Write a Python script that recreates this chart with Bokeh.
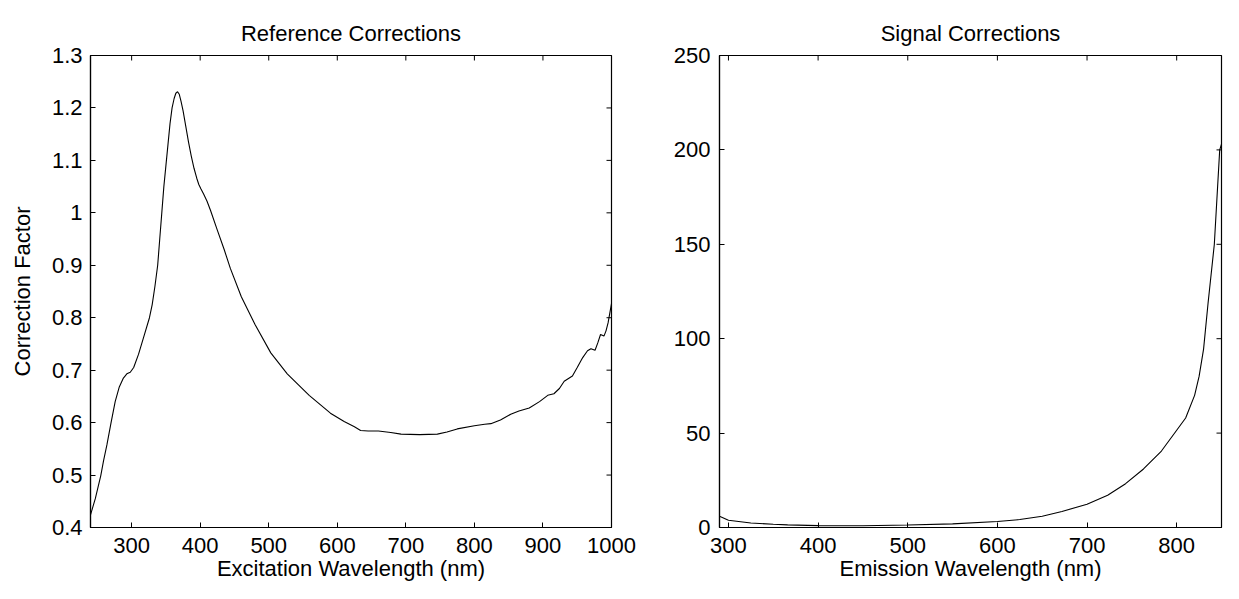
import math
from bokeh.plotting import figure
from bokeh.models import FixedTicker, Range1d, NumeralTickFormatter
from bokeh.layouts import row
from bokeh.embed import file_html
from bokeh.resources import INLINE

# ---------------- data ----------------
ref_wavelength = [240, 247, 255, 259, 264, 270, 276, 282, 288, 293, 298, 303, 310,
                  318, 326, 330, 334, 338, 341, 344, 347, 350, 353, 356, 359, 362,
                  364.5, 367, 369.5, 372, 375, 379, 383, 387, 391, 395, 398, 401,
                  405, 410, 415, 425, 435, 444, 460, 480, 503, 527, 559, 590, 610,
                  625, 634, 645, 660, 678, 693, 720, 746, 760, 775, 800, 815, 824,
                  838, 853, 865, 880, 895, 907, 916, 924, 931, 943, 950, 958, 965,
                  970, 976, 980, 984, 989, 992, 995, 1000]
ref_factor = [0.424, 0.455, 0.499, 0.527, 0.558, 0.600, 0.640, 0.668, 0.685, 0.693,
              0.696, 0.705, 0.730, 0.765, 0.800, 0.825, 0.860, 0.900, 0.950, 1.000,
              1.050, 1.090, 1.130, 1.170, 1.200, 1.218, 1.228, 1.231, 1.226, 1.213,
              1.195, 1.165, 1.135, 1.108, 1.085, 1.066, 1.054, 1.046, 1.036, 1.022,
              1.005, 0.967, 0.930, 0.894, 0.840, 0.787, 0.733, 0.693, 0.652, 0.618,
              0.602, 0.592, 0.585, 0.584, 0.584, 0.581, 0.578, 0.577, 0.578, 0.582,
              0.588, 0.594, 0.597, 0.598, 0.605, 0.616, 0.622, 0.628, 0.640, 0.652,
              0.655, 0.665, 0.679, 0.689, 0.705, 0.724, 0.737, 0.741, 0.738, 0.752,
              0.768, 0.765, 0.775, 0.790, 0.827]

sig_wavelength = [290, 300, 325, 350, 366, 400, 450, 500, 550, 600, 625, 650, 672,
                  700, 723, 743, 763, 783, 800, 810, 820, 825, 830, 835, 842, 848, 850]
sig_factor = [5.9, 3.8, 2.4, 1.7, 1.4, 1.0, 0.95, 1.3, 1.9, 3.2, 4.2, 6.0, 8.5,
              12.3, 17.1, 23.2, 31.0, 40.5, 51.5, 58.0, 70.0, 80.0, 94.5, 118.75,
              150.0, 200.0, 203.0]

ref_xticks = [300, 400, 500, 600, 700, 800, 900, 1000]
ref_yticks = [0.4, 0.5, 0.6, 0.7, 0.8, 0.9, 1.0, 1.1, 1.2, 1.3]
sig_xticks = [300, 400, 500, 600, 700, 800]
sig_yticks = [0, 50, 100, 150, 200, 250]

ref_xlim = (240, 1000)
ref_ylim = (0.4, 1.3)
sig_xlim = (290, 850)
sig_ylim = (0, 250)

FONT = "Liberation Sans"
FS = "22px"
H = 583


def style_axis(ax, ticks, fmt=None):
    ax.ticker = FixedTicker(ticks=ticks)
    ax.major_tick_in = 5
    ax.major_tick_out = 0
    ax.minor_tick_in = 0
    ax.minor_tick_out = 0
    ax.axis_line_color = "black"
    ax.axis_line_width = 1.2
    ax.major_tick_line_color = "black"
    ax.major_tick_line_width = 1
    ax.major_label_text_font = FONT
    ax.major_label_text_font_size = FS
    ax.major_label_text_color = "black"
    ax.axis_label_text_font = FONT
    ax.axis_label_text_font_size = FS
    ax.axis_label_text_font_style = "normal"
    ax.axis_label_text_color = "black"
    if fmt is not None:
        ax.formatter = fmt


def make_fig(title, xlim, ylim, xticks, yticks, xlabel, ylabel, width, bl, br,
             xs, ys, ystand, yfmt=None):
    p = figure(width=width, height=H, output_backend="svg", toolbar_location=None,
               x_range=Range1d(*xlim), y_range=Range1d(*ylim),
               min_border_left=bl, min_border_right=br,
               min_border_top=55, min_border_bottom=54)
    p.xgrid.visible = False
    p.ygrid.visible = False
    p.outline_line_color = "black"
    p.outline_line_width = 1.2
    p.background_fill_color = "white"
    p.border_fill_color = "white"
    p.title.text = title
    p.title.align = "center"
    p.title.text_font = FONT
    p.title.text_font_size = FS
    p.title.text_font_style = "normal"
    p.title.text_color = "black"
    p.title.standoff = 19

    style_axis(p.xaxis[0], xticks)
    p.xaxis[0].axis_label = xlabel
    p.xaxis[0].major_label_standoff = 10
    p.xaxis[0].axis_label_standoff = 0
    style_axis(p.yaxis[0], yticks, fmt=yfmt)
    p.yaxis[0].major_label_standoff = ystand
    if ylabel:
        p.yaxis[0].axis_label = ylabel
        p.yaxis[0].axis_label_standoff = 14

    # inward tick marks on the top and right edges (half of each dash is clipped)
    p.scatter(xticks, [ylim[1]] * len(xticks), marker="dash", size=10,
              angle=math.pi / 2, line_color="black", line_width=1)
    p.scatter([xlim[1]] * len(yticks), yticks, marker="dash", size=10,
              line_color="black", line_width=1)

    p.line(xs, ys, line_color="black", line_width=1.1)
    return p


p1 = make_fig("Reference Corrections", ref_xlim, ref_ylim, ref_xticks, ref_yticks,
              "Excitation Wavelength (nm)", "Correction Factor", 640, 90, 29,
              ref_wavelength, ref_factor, 8, yfmt=NumeralTickFormatter(format="0.[0]"))
p2 = make_fig("Signal Corrections", sig_xlim, sig_ylim, sig_xticks, sig_yticks,
              "Emission Wavelength (nm)", None, 583, 79, 2,
              sig_wavelength, sig_factor, 9)

layout = row(p1, p2)
open("out.html", "w").write(file_html(layout, INLINE))
